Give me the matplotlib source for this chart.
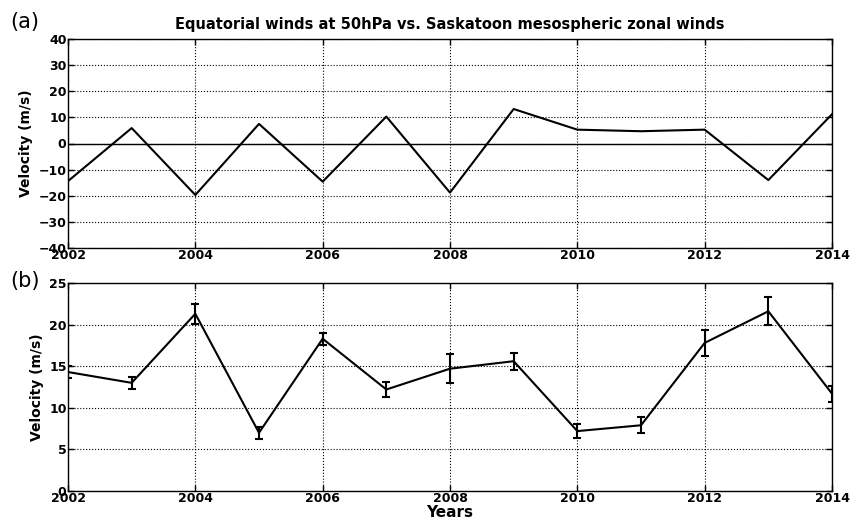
import numpy as np
import matplotlib.pyplot as plt

years = np.arange(2002, 2015)
equatorial_u50 = [-14.4, 5.9, -19.7, 7.5, -14.6, 10.3, -18.8, 13.2, 5.3, 4.7, 5.3, -14.0, 11.2]
saskatoon_u = [14.3, 13.0, 21.3, 7.0, 18.3, 12.2, 14.7, 15.6, 7.2, 7.9, 17.8, 21.6, 11.7]
saskatoon_err = [0.7, 0.75, 1.2, 0.7, 0.75, 0.9, 1.75, 1.0, 0.8, 0.95, 1.6, 1.7, 0.95]

plt.rcParams['font.family'] = 'DejaVu Sans'
plt.rcParams['font.weight'] = 'bold'
plt.rcParams['axes.labelweight'] = 'bold'
plt.rcParams['xtick.direction'] = 'in'
plt.rcParams['ytick.direction'] = 'in'
plt.rcParams['xtick.top'] = True
plt.rcParams['ytick.right'] = True

fig = plt.figure(figsize=(8.52, 5.24), dpi=100)
ax1 = fig.add_axes([68 / 852, 1 - 248 / 524, 764 / 852, 209 / 524])
ax2 = fig.add_axes([68 / 852, 1 - 491 / 524, 764 / 852, 208 / 524])

# top: equatorial 50 hPa zonal wind
ax1.plot(years, equatorial_u50, color='black', lw=1.5)
ax1.axhline(0, color='black', lw=1.0)
ax1.set_xlim(2002, 2014)
ax1.set_ylim(-40, 40)
ax1.set_yticks(np.arange(-40, 41, 10))
ax1.set_xticks(np.arange(2002, 2015, 2))
ax1.set_ylabel('Velocity (m/s)', fontsize=10)
ax1.set_title('Equatorial winds at 50hPa vs. Saskatoon mesospheric zonal winds',
              fontsize=10.5, fontweight='bold', pad=7)

# bottom: Saskatoon mesospheric zonal wind with error bars
ax2.errorbar(years, saskatoon_u, yerr=saskatoon_err, color='black', lw=1.5,
             elinewidth=1.5, capsize=3, capthick=1.5)
ax2.set_xlim(2002, 2014)
ax2.set_ylim(0, 25)
ax2.set_yticks(np.arange(0, 26, 5))
ax2.set_xticks(np.arange(2002, 2015, 2))
ax2.set_ylabel('Velocity (m/s)', fontsize=10)
ax2.set_xlabel('Years', fontsize=11, labelpad=0)

for ax in (ax1, ax2):
    ax.grid(True, color='black', linestyle=':', linewidth=0.8)
    ax.tick_params(labelsize=9, length=4, width=1, pad=1)
    for lab in ax.get_xticklabels() + ax.get_yticklabels():
        lab.set_fontweight('bold')
    for s in ax.spines.values():
        s.set_linewidth(1.0)

fig.text(0.012, 1 - 22 / 524, '(a)', fontsize=15, fontweight='normal', va='center')
fig.text(0.012, 1 - 281 / 524, '(b)', fontsize=15, fontweight='normal', va='center')

fig.savefig('out.png', dpi=100)
